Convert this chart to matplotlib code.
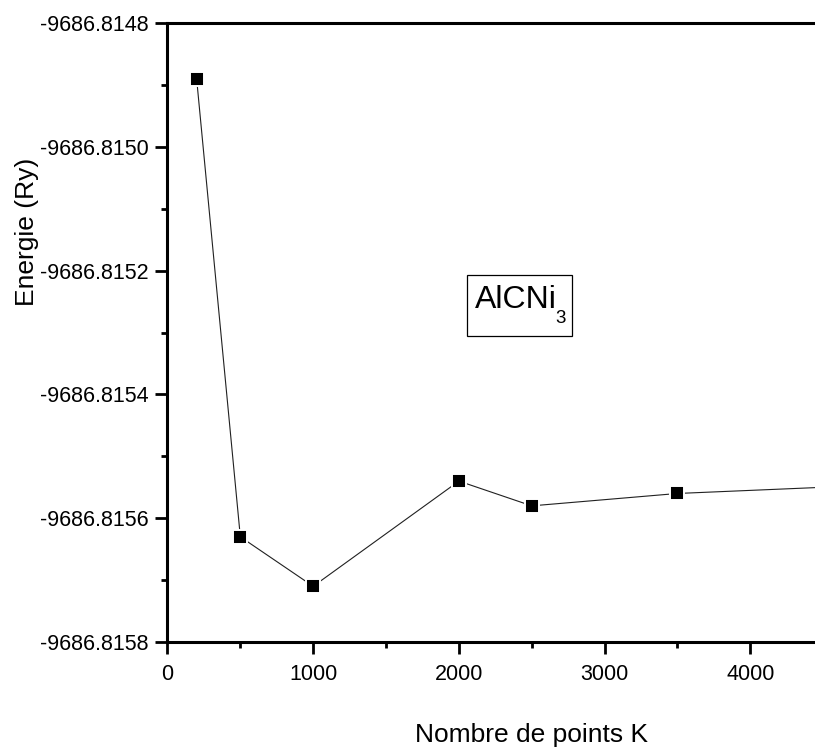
import numpy as np
import matplotlib
matplotlib.use("Agg")
import matplotlib.pyplot as plt
from matplotlib.patches import Rectangle
from matplotlib.ticker import FixedLocator, FuncFormatter

plt.rcParams['font.family'] = ['Liberation Sans', 'DejaVu Sans']

# Convergence of total energy with the number of k-points
k_points = [200, 500, 1000, 2000, 2500, 3500, 4500]
energy = [-9686.81489, -9686.81563, -9686.81571, -9686.81554,
          -9686.81558, -9686.81556, -9686.81555]

x_major = [0, 1000, 2000, 3000, 4000]
y_min, y_max = -9686.8158, -9686.8148

W, H = 815, 751
fig = plt.figure(figsize=(W / 100, H / 100), dpi=100)
ax = fig.add_axes([0.2055, 0.1451, 0.8939, 0.8242])

ax.plot(k_points, energy, color='#202020', lw=0.8,
        marker='s', markersize=10.1, markerfacecolor='black',
        markeredgecolor='white', markeredgewidth=1.4)

ax.set_xlim(0, 5000)
ax.set_ylim(y_min, y_max)

ax.xaxis.set_major_locator(FixedLocator(x_major))
ax.xaxis.set_minor_locator(FixedLocator(np.arange(500, 5000, 1000)))
ax.yaxis.set_major_locator(FixedLocator(np.linspace(y_min, y_max, 6)))
ax.yaxis.set_minor_locator(FixedLocator(np.linspace(y_min, y_max, 11)))
ax.yaxis.set_major_formatter(FuncFormatter(lambda v, p: f"{v:.4f}"))

for side in ['left', 'bottom', 'top', 'right']:
    ax.spines[side].set_linewidth(2.2)

ax.tick_params(axis='both', which='major', direction='out', length=8.5,
               width=2.0, labelsize=15.5, pad=5, top=False, right=False)
ax.tick_params(axis='both', which='minor', direction='out', length=4.3,
               width=2.0, top=False, right=False)
ax.tick_params(axis='x', which='major', pad=7)

ax.set_xlabel('Nombre de points K', fontsize=19)
ax.xaxis.set_label_coords(0.5, -0.131)
ax.set_ylabel('Energie (Ry)', fontsize=19)
ax.yaxis.set_label_coords(-0.176, 0.663)

# Compound label in a framed box, with a dropped subscript
bx0, by0, bx1, by1 = 467, 275, 572, 336
fig.patches.append(Rectangle((bx0 / W, 1 - by1 / H), (bx1 - bx0) / W, (by1 - by0) / H,
                             transform=fig.transFigure, facecolor='white',
                             edgecolor='black', linewidth=0.9, zorder=5))
fig.text(475 / W, 1 - 308 / H, 'AlCNi', fontsize=23, ha='left',
         va='baseline', zorder=6)
fig.text(555 / W, 1 - 323 / H, '3', fontsize=13.5, ha='left',
         va='baseline', zorder=6)

fig.savefig('out.png', dpi=100)
